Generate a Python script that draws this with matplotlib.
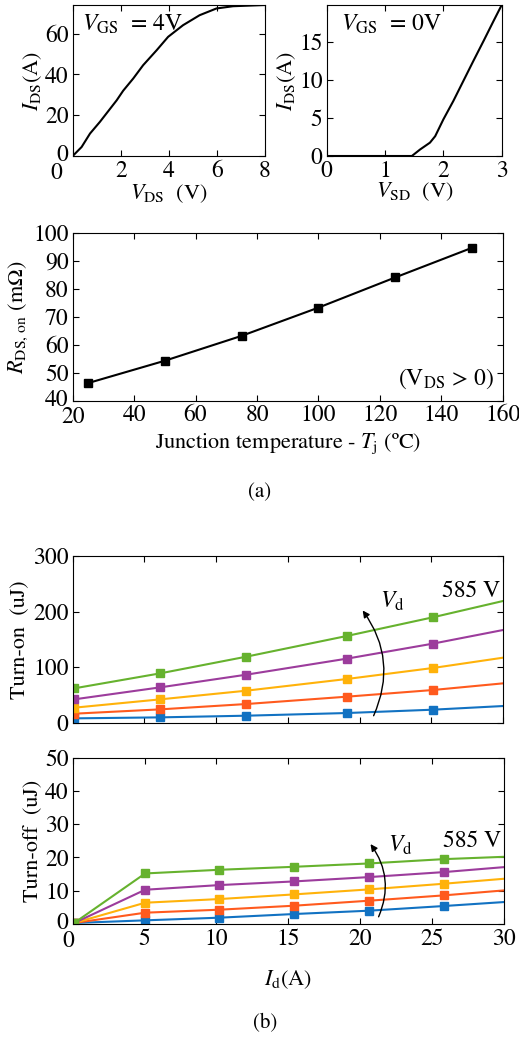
import matplotlib
matplotlib.use("Agg")
import matplotlib.pyplot as plt
from matplotlib.transforms import ScaledTranslation

plt.rcParams["font.family"] = ["STIXGeneral", "Liberation Serif", "DejaVu Serif"]
plt.rcParams["mathtext.fontset"] = "stix"
plt.rcParams["font.size"] = 16

# (a) output characteristic, V_GS = 4 V
vds = [0.0, 0.37, 0.72, 1.13, 1.83, 2.1, 2.52, 2.93, 3.49, 3.97, 4.59, 5.28, 5.98, 6.67, 8.0]
ids_fwd = [0.0, 4.4, 11.0, 16.7, 27.3, 32.0, 38.0, 44.5, 51.8, 58.4, 64.1, 69.0, 72.3, 73.4, 74.0]

# (a) third quadrant, V_GS = 0 V
vsd = [0.0, 1.46, 1.6, 1.77, 1.86, 2.0, 2.17, 2.34, 2.51, 2.69, 2.86, 3.0]
ids_rev = [0.0, 0.0, 0.85, 1.75, 2.6, 4.8, 7.2, 9.8, 12.4, 15.1, 17.7, 19.8]

# (a) on-resistance vs junction temperature
tj = [25, 50, 75, 100, 125, 150]
rds_on = [46.3, 54.3, 63.2, 73.3, 84.1, 94.7]

# (b) switching energies; last point of each line is the fit end at 30 A
id_on = [0.1, 6.1, 12.1, 19.1, 25.1, 30.0]
eon = {
    "blue":   [7.8, 9.6, 12.6, 17.4, 23.4, 30.0],
    "red":    [16.2, 24.0, 33.6, 46.8, 58.8, 70.8],
    "yellow": [27.0, 42.0, 57.6, 78.6, 98.4, 117.0],
    "purple": [42.0, 63.6, 86.4, 115.2, 142.2, 166.8],
    "green":  [61.8, 88.8, 118.8, 156.0, 189.6, 219.0],
}
id_off = [0.1, 5.04, 10.2, 15.4, 20.6, 25.8, 30.0]
eoff = {
    "blue":   [0.3, 1.1, 1.9, 3.0, 4.0, 5.4, 6.6],
    "red":    [0.3, 3.4, 4.3, 5.5, 7.0, 8.6, 10.1],
    "yellow": [0.3, 6.4, 7.5, 8.9, 10.4, 12.1, 13.6],
    "purple": [0.3, 10.3, 11.7, 12.8, 14.1, 15.6, 17.1],
    "green":  [0.3, 15.2, 16.3, 17.2, 18.2, 19.5, 20.2],
}
colors = {
    "blue": "#1272C2",
    "red": "#FF5A1E",
    "yellow": "#FFB20A",
    "purple": "#9C3C9C",
    "green": "#66B22E",
}

W, H = 519, 1040
fig = plt.figure(figsize=(W / 100, H / 100), dpi=100)


def box(l, r, t, b):
    return [l / W, 1 - b / H, (r - l) / W, (b - t) / H]


def style(ax):
    ax.tick_params(direction="in", top=True, right=True, length=4, width=0.8,
                   labelsize=17, pad=3)
    for s in ax.spines.values():
        s.set_linewidth(0.8)


def nudge(label, dx_px, dy_px):
    label.set_transform(label.get_transform()
                        + ScaledTranslation(dx_px / 100, dy_px / 100, fig.dpi_scale_trans))


ax1 = fig.add_axes(box(72.7, 265, 5, 156))
ax1.plot(vds, ids_fwd, color="black", lw=1.5)
ax1.set_xlim(0, 8)
ax1.set_ylim(0, 74)
ax1.set_xticks([0, 2, 4, 6, 8])
ax1.set_yticks([0, 20, 40, 60])
ax1.set_xlabel(r"$V_{\rm DS}$  (V)", labelpad=-1)
ax1.set_ylabel(r"$I_{\rm DS}$(A)", labelpad=1)
ax1.text(0.05, 0.95, r"$V_{\rm GS}$  = 4V", transform=ax1.transAxes, va="top", fontsize=17)
style(ax1)
nudge(ax1.get_xticklabels()[0], -16, -2)
nudge(ax1.get_yticklabels()[0], 0, 3)

ax2 = fig.add_axes(box(326.7, 501.7, 5, 156))
ax2.plot(vsd, ids_rev, color="black", lw=1.5)
ax2.set_xlim(0, 3)
ax2.set_ylim(0, 19.8)
ax2.set_xticks([0, 1, 2, 3])
ax2.set_yticks([0, 5, 10, 15])
ax2.set_xlabel(r"$V_{\rm SD}$  (V)", labelpad=-1)
ax2.set_ylabel(r"$I_{\rm DS}$(A)", labelpad=1)
ax2.text(0.08, 0.95, r"$V_{\rm GS}$  = 0V", transform=ax2.transAxes, va="top", fontsize=17)
style(ax2)

ax3 = fig.add_axes(box(72.7, 502.7, 233, 400.7))
ax3.plot(tj, rds_on, color="black", lw=1.5, marker="s", markersize=6)
ax3.set_xlim(20, 160)
ax3.set_ylim(40, 100)
ax3.set_xticks(range(20, 161, 20))
ax3.set_yticks(range(40, 101, 10))
ax3.set_xlabel(r"Junction temperature - $T_{\rm j}$ (ºC)", labelpad=2)
ax3.set_ylabel(r"$R_{\rm DS,\,on}$ (m$\Omega$)", labelpad=2)
ax3.text(0.98, 0.06, r"(V$_{\rm DS}$ > 0)", transform=ax3.transAxes, ha="right",
         va="bottom", fontsize=17)
style(ax3)
nudge(ax3.get_yticklabels()[0], 0, 3)
nudge(ax3.get_xticklabels()[0], 0, -2)

fig.text(260 / W, 1 - 492 / H, "(a)", ha="center", va="center", fontsize=15)

ax4 = fig.add_axes(box(72.7, 503, 556, 722.7))
for name, vals in eon.items():
    ax4.plot(id_on, vals, color=colors[name], lw=1.5, marker="s", markersize=5.5,
             markevery=list(range(len(vals) - 1)))
ax4.set_xlim(0, 30)
ax4.set_ylim(0, 300)
ax4.set_xticks(range(0, 31, 5))
ax4.set_xticklabels([])
ax4.set_yticks([0, 100, 200, 300])
ax4.set_ylabel("Turn-on  (uJ)", labelpad=2)
ax4.annotate("", xy=(20.1, 206), xytext=(20.9, 8),
             arrowprops=dict(arrowstyle="-|>", color="black", lw=1,
                             connectionstyle="arc3,rad=0.3", mutation_scale=10))
ax4.text(21.4, 218, r"$V_{\rm d}$", fontsize=17, va="center")
ax4.text(27.8, 236, "585 V", fontsize=17, ha="center", va="center")
style(ax4)

ax5 = fig.add_axes(box(72.7, 504, 757.7, 924))
for name, vals in eoff.items():
    ax5.plot(id_off, vals, color=colors[name], lw=1.5, marker="s", markersize=5.5,
             markevery=list(range(len(vals) - 1)))
ax5.set_xlim(0, 30)
ax5.set_ylim(0, 50)
ax5.set_xticks(range(0, 31, 5))
ax5.set_yticks(range(0, 51, 10))
ax5.set_xlabel(r"$I_{\rm d}$(A)", labelpad=12)
ax5.set_ylabel("Turn-off  (uJ)", labelpad=2)
ax5.annotate("", xy=(20.6, 24.7), xytext=(21.2, 1.4),
             arrowprops=dict(arrowstyle="-|>", color="black", lw=1,
                             connectionstyle="arc3,rad=0.3", mutation_scale=10))
ax5.text(21.9, 23.7, r"$V_{\rm d}$", fontsize=17, va="center")
ax5.text(27.8, 25, "585 V", fontsize=17, ha="center", va="center")
style(ax5)
nudge(ax5.get_xticklabels()[0], -4, -2)
nudge(ax5.get_yticklabels()[0], 0, 3)

fig.text(265 / W, 1 - 1023 / H, "(b)", ha="center", va="center", fontsize=15)

fig.savefig("out.png", dpi=100)
